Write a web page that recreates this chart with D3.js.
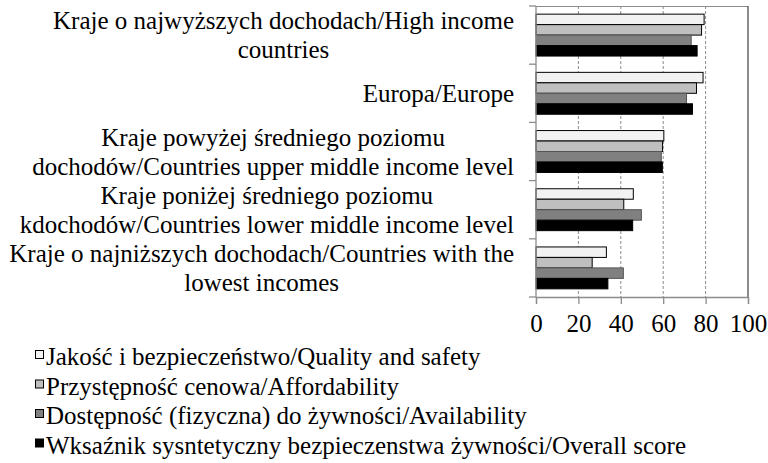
<!DOCTYPE html>
<html>
<head>
<meta charset="utf-8">
<script src="https://cdn.jsdelivr.net/npm/d3@7"></script>
<style>
  body { margin: 0; background: #fff; }
  svg { display: block; font-family: "Liberation Serif", "Times New Roman", serif; }
</style>
</head>
<body>
<div id="chart"></div>
<script>
// categories, top to bottom
const categories = ['high', 'europe', 'upper', 'lower', 'lowest'];
const categoryLabels = [
  ['Kraje o najwyższych dochodach/High income', 'countries'],
  ['Europa/Europe'],
  ['Kraje powyżej średniego poziomu', 'dochodów/Countries upper middle income level'],
  ['Kraje poniżej średniego poziomu', 'kdochodów/Countries lower middle income level'],
  ['Kraje o najniższych dochodach/Countries with the', 'lowest incomes']
];

const seriesNames = [
  'Jakość i bezpieczeństwo/Quality and safety',
  'Przystępność cenowa/Affordability',
  'Dostępność (fizyczna) do żywności/Availability',
  'Wksaźnik sysntetyczny bezpieczenstwa żywności/Overall score'
];
const seriesColors = ['#f2f2f2', '#bfbfbf', '#808080', '#000000'];

const quality       = [79.3, 78.8, 60.3, 45.9, 33.2];
const affordability = [78.1, 75.7, 59.7, 41.4, 26.5];
const availability  = [73.2, 71.0, 59.1, 49.7, 41.2];
const overall       = [76.0, 73.8, 59.6, 45.6, 33.9];
const seriesValues = [quality, affordability, availability, overall];

const xTicks = [0, 20, 40, 60, 80, 100];

const width = 768, height = 463;
const margin = { top: 6, right: 20, bottom: 166, left: 536 };

const svg = d3.select('#chart').append('svg')
  .attr('width', width)
  .attr('height', height);

const x = d3.scaleLinear().domain([0, 100]).range([margin.left, width - margin.right]);
const y = d3.scaleBand().domain(categories)
  .range([margin.top, height - margin.bottom])
  .paddingInner(0.28).paddingOuter(0.14);
const ySub = d3.scaleBand().domain(d3.range(seriesNames.length)).range([0, y.bandwidth()]);

const plotTop = margin.top, plotBottom = height - margin.bottom;

// gridlines
svg.append('g')
  .selectAll('line')
  .data(xTicks.filter(t => t > 0 && t < 100))
  .enter().append('line')
  .attr('x1', d => x(d)).attr('x2', d => x(d))
  .attr('y1', plotTop).attr('y2', plotBottom)
  .attr('stroke', '#8c8c8c')
  .attr('stroke-width', 1)
  .attr('stroke-dasharray', '3,2');

// frame top / right
svg.append('line')
  .attr('x1', x(0)).attr('x2', x(100)).attr('y1', plotTop + 0.5).attr('y2', plotTop + 0.5)
  .attr('stroke', '#8c8c8c').attr('stroke-width', 1.2);
svg.append('line')
  .attr('x1', x(100)).attr('x2', x(100)).attr('y1', plotTop).attr('y2', plotBottom)
  .attr('stroke', '#404040').attr('stroke-width', 1.2);

// bars
const rows = categories.map((c, i) => ({ cat: c, vals: seriesValues.map(s => s[i]) }));
svg.append('g')
  .selectAll('g')
  .data(rows)
  .enter().append('g')
  .attr('transform', d => `translate(0,${y(d.cat)})`)
  .selectAll('rect')
  .data(d => d.vals)
  .enter().append('rect')
  .attr('x', x(0))
  .attr('y', (d, j) => ySub(j))
  .attr('width', d => x(d) - x(0))
  .attr('height', ySub.bandwidth())
  .attr('fill', (d, j) => seriesColors[j])
  .attr('stroke', (d, j) => j === 2 ? '#555' : '#000')
  .attr('stroke-width', 1);

// left axis line + category boundary ticks
const bounds = categories.map(c => y(c) - y.step() * y.paddingOuter());
bounds.push(plotBottom);
svg.append('line')
  .attr('x1', x(0)).attr('x2', x(0)).attr('y1', plotTop).attr('y2', plotBottom)
  .attr('stroke', '#8c8c8c').attr('stroke-width', 1.3);
svg.append('g')
  .selectAll('line')
  .data(bounds)
  .enter().append('line')
  .attr('x1', x(0) - 7).attr('x2', x(0))
  .attr('y1', d => d).attr('y2', d => d)
  .attr('stroke', '#8c8c8c').attr('stroke-width', 1.3);

// bottom axis
const xAxis = svg.append('g')
  .attr('transform', `translate(0,${plotBottom})`)
  .call(d3.axisBottom(x).tickValues(xTicks).tickSize(7).tickPadding(10).tickFormat(d3.format('d')));
xAxis.select('.domain').attr('stroke', '#8c8c8c').attr('stroke-width', 1.3);
xAxis.selectAll('.tick line').attr('stroke', '#8c8c8c').attr('stroke-width', 1.3);
xAxis.selectAll('.tick text')
  .attr('fill', '#000')
  .style('font-family', '"Liberation Serif", "Times New Roman", serif')
  .style('font-size', '25px');

// category labels: lines centred among themselves, block right-aligned
const labelRight = 514, lineH = 29, labelSize = 25;
categories.forEach((c, i) => {
  const lines = categoryLabels[i];
  const g = svg.append('g');
  const texts = g.selectAll('text')
    .data(lines)
    .enter().append('text')
    .attr('font-size', labelSize)
    .attr('fill', '#000')
    .attr('text-anchor', 'middle')
    .attr('y', (d, k) => y(c) + y.bandwidth() / 2 + (k - (lines.length - 1) / 2) * lineH + labelSize * 0.35)
    .text(d => d);
  const maxW = d3.max(texts.nodes(), n => n.getComputedTextLength());
  texts.attr('x', labelRight - maxW / 2);
});

// legend
const legend = svg.append('g')
  .selectAll('g')
  .data(seriesNames)
  .enter().append('g')
  .attr('transform', (d, i) => `translate(35,${365 + i * 29.5})`);
legend.append('rect')
  .attr('x', 0.5).attr('y', -14.5)
  .attr('width', 8).attr('height', 8)
  .attr('fill', (d, i) => seriesColors[i])
  .attr('stroke', '#000').attr('stroke-width', 1);
legend.append('text')
  .attr('x', 11).attr('y', 0)
  .attr('font-size', 25)
  .attr('fill', '#000')
  .text(d => d);
</script>
</body>
</html>
